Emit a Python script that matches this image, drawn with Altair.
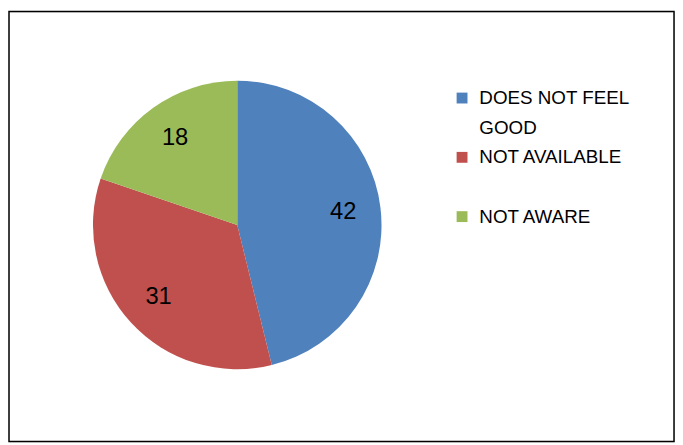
import altair as alt
import pandas as pd

categories = ["DOES NOT FEEL GOOD", "NOT AVAILABLE", "NOT AWARE"]
values = [42, 31, 18]
colors = ["#4F81BD", "#C0504D", "#9BBB59"]
order_idx = [0, 1, 2]

df = pd.DataFrame({"category": categories, "value": values, "order": order_idx})
frame = pd.DataFrame({"k": [0]})

FONT = "Liberation Sans"
W, H = 673, 435
CX, CY = 231, 216

label_expr = (
    "datum.label == 'DOES NOT FEEL GOOD' ? ['DOES NOT FEEL', 'GOOD'] : datum.label"
)

pie = alt.Chart(df).mark_arc(x=CX, y=CY, radius=146).encode(
    theta=alt.Theta("value:Q", stack=True),
    order=alt.Order("order:Q"),
    color=alt.Color(
        "category:N",
        scale=alt.Scale(domain=categories, range=colors),
        sort=categories,
        legend=alt.Legend(
            title=None,
            orient="none",
            legendX=449,
            legendY=78,
            symbolType="square",
            symbolSize=121,
            symbolStrokeWidth=0,
            symbolOpacity=1,
            labelFont=FONT,
            labelFontSize=19,
            labelColor="black",
            labelLimit=400,
            labelOffset=8,
            labelExpr=label_expr,
            gridAlign="all",
            rowPadding=10,
        ),
    ),
)

text = alt.Chart(df).mark_text(
    x=CX, y=CY, radius=108, fontSize=24, font=FONT, color="black"
).encode(
    theta=alt.Theta("value:Q", stack=True),
    order=alt.Order("order:Q"),
    text=alt.Text("value:Q"),
)

border = alt.Chart(frame).mark_rect(fill=None, stroke="black", strokeWidth=1.5).encode(
    x=alt.value(0), x2=alt.value(W), y=alt.value(0), y2=alt.value(H)
)

chart = (
    alt.layer(pie, text, border)
    .properties(width=W, height=H, padding=1, autosize="none", background="white")
    .configure_view(stroke=None)
    .configure(style={"guide-label": {"lineHeight": 30}})
)

chart.save("out.html", embed_options={"renderer": "svg", "actions": False})
